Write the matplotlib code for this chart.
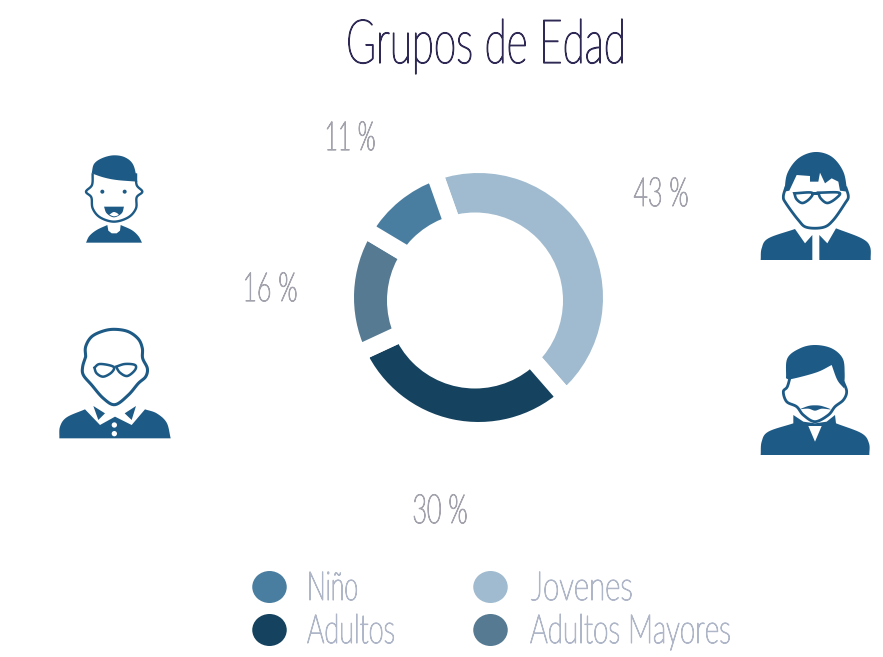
import numpy as np
import matplotlib
matplotlib.use("Agg")
import matplotlib.pyplot as plt
from matplotlib.patches import Ellipse, Polygon, Circle
from matplotlib.patheffects import AbstractPathEffect
from matplotlib.transforms import Affine2D

W, H = 883, 657
plt.rcParams["font.family"] = ["Lato", "DejaVu Sans"]

title = "Grupos de Edad"
categories = ["Jovenes", "Adultos", "Adultos Mayores", "Niño"]
# shares as the ring draws them, the printed labels are a little different
values = [44, 29.5, 15.5, 11]
pct_labels = ["43 %", "30 %", "16 %", "11 %"]
colors = ["#a0bbcf", "#15435f", "#567a92", "#4a7ea0"]
label_pos = [(661, 195), (440, 512), (270, 290), (350, 139)]
label_width = [55, 55, 55, 51]
legend_order = ["Niño", "Jovenes", "Adultos", "Adultos Mayores"]
legend_pos = [(269.5, 587), (490.5, 587), (269.5, 630), (490.5, 630)]
legend_width = [51, 102, 88, 201]
legend_text_x = [307, 531, 307, 530]

ICON = "#1d5a85"
TEXT = "#aeb6c8"
PCT = "#a3a3ad"


class Condense(AbstractPathEffect):
    """Squeezes text sideways about x0 (no condensed font here), a thin stroke gives the weight back"""

    def __init__(self, sx, x0, color, lw):
        super().__init__()
        self.sx, self.x0, self.color, self.lw = sx, x0, color, lw

    def draw_path(self, renderer, gc, tpath, affine, rgbFace):
        squeezed = affine + Affine2D().translate(-self.x0, 0).scale(self.sx, 1).translate(self.x0, 0)
        renderer.draw_path(gc, tpath, squeezed, rgbFace)
        gc0 = renderer.new_gc()
        gc0.copy_properties(gc)
        gc0.set_foreground(self.color)
        gc0.set_linewidth(self.lw)
        gc0.set_joinstyle("round")
        renderer.draw_path(gc0, tpath, squeezed, None)
        gc0.restore()


def squeeze(fig, t, x0, width, lw):
    w = t.get_window_extent(fig.canvas.get_renderer()).width
    t.set_path_effects([Condense(width / w, x0, t.get_color(), lw)])


def curve(pts, n=8):
    """Open Catmull-Rom curve through pts, still in crop coordinates"""
    p = np.array(pts, float)
    p = np.vstack([2 * p[0] - p[1], p, 2 * p[-1] - p[-2]])
    out = []
    for i in range(1, len(p) - 2):
        p0, p1, p2, p3 = p[i - 1], p[i], p[i + 1], p[i + 2]
        for t in np.linspace(0, 1, n, endpoint=False):
            out.append(0.5 * (2 * p1 + (p2 - p0) * t + (2 * p0 - 5 * p1 + 4 * p2 - p3) * t ** 2
                              + (3 * p1 - p0 - 3 * p2 + p3) * t ** 3))
    out.append(p[-2])
    return [tuple(q) for q in out]


def closed(pts):
    return curve(list(pts) + [pts[0]])


def zoomed(pts, ox, oy=140):
    p = np.array(pts, float)
    return np.column_stack([ox + p[:, 0] / 3, H - (oy + p[:, 1] / 3)])


def fill(ax, pts, ox, color=ICON, z=5):
    ax.add_patch(Polygon(zoomed(pts, ox), closed=True, fc=color, ec="none", zorder=z))


def outline(ax, pts, ox, lw=2.0, color=ICON, fc="none", z=5, ring=True):
    # ring=False leaves the top open, the hair covers it
    xy = zoomed(closed(pts) if ring else curve(pts), ox)
    if fc != "none":
        ax.add_patch(Polygon(xy, closed=True, fc=fc, ec="none", zorder=z))
    ax.add_patch(Polygon(xy, closed=ring, fc="none", ec=color, lw=lw, zorder=z))


def dot(ax, x, y, r, ox, color=ICON, z=6):
    c = zoomed([(x, y)], ox)[0]
    ax.add_patch(Circle(c, r / 3, fc=color, ec="none", zorder=z))


def boy(ax, ox):
    fill(ax, curve([(108, 308), (118, 288), (140, 270), (172, 255)]) + [(175, 272), (185, 280), (200, 280), (210, 272)]
         + curve([(212, 255), (245, 270), (265, 288), (276, 308)]), ox)
    outline(ax, [(128, 100), (126, 135), (108, 155), (124, 172), (128, 205), (150, 232), (192, 245), (235, 232),
                 (258, 205), (260, 172), (277, 155), (260, 135), (258, 100)], ox, lw=1.7, fc="white", ring=False)
    fill(ax, curve([(125, 100), (132, 72), (155, 55), (190, 46), (225, 52), (250, 75), (262, 125)])
         + curve([(262, 125), (200, 120), (160, 112), (125, 100)]), ox, z=6)
    dot(ax, 157, 155, 6, ox)
    dot(ax, 224, 155, 6, ox)
    fill(ax, [(162, 200), (222, 200)] + curve([(222, 200), (215, 220), (192, 232), (170, 220), (162, 200)]), ox)
    fill(ax, closed([(178, 224), (192, 216), (206, 224), (192, 229)]), ox, color="white", z=6)


def old_man(ax, ox):
    fill(ax, curve([(28, 895), (30, 860), (50, 832), (105, 808)]) + [(150, 855), (195, 830), (245, 855)]
         + curve([(285, 808), (320, 820), (350, 848), (362, 895)]), ox)
    fill(ax, [(130, 798), (165, 820), (145, 840)], ox)
    fill(ax, [(258, 798), (224, 820), (245, 840)], ox)
    dot(ax, 193, 855, 8, ox, color="white")
    dot(ax, 193, 881, 8, ox, color="white")
    outline(ax, [(107, 650), (107, 620), (125, 590), (160, 573), (195, 568), (235, 575), (265, 597), (277, 625),
                 (278, 655), (292, 685), (287, 710), (265, 730), (235, 765), (195, 794), (160, 775), (125, 735),
                 (100, 705), (98, 680)], ox, lw=2.2, fc="white")
    outline(ax, [(133, 683), (150, 672), (190, 680), (185, 697), (160, 710), (140, 700)], ox, lw=1.8)
    outline(ax, [(198, 680), (225, 672), (255, 675), (255, 690), (232, 708), (210, 698)], ox, lw=1.8)


def glasses_man(ax, ox):
    fill(ax, curve([(32, 360), (35, 325), (55, 295), (135, 267)]) + [(165, 310), (187, 285), (187, 360)], ox)
    fill(ax, [(208, 360), (208, 285), (232, 310)] + curve([(258, 265), (335, 295), (360, 320), (362, 360)]), ox)
    outline(ax, [(108, 140), (100, 170), (108, 190), (145, 240), (170, 262), (220, 262), (250, 240), (285, 190),
                 (295, 170), (287, 140)], ox, lw=2.0, fc="white", ring=False)
    fill(ax, curve([(103, 155), (112, 100), (145, 55), (195, 36), (245, 50), (280, 95), (292, 155)])
         + [(270, 152), (265, 125), (245, 115), (225, 130), (210, 98), (205, 125), (180, 125), (180, 108), (140, 105),
            (118, 152)], ox, z=6)
    outline(ax, [(133, 160), (185, 158), (180, 175), (158, 189), (140, 178)], ox, lw=1.9, fc="white", z=7)
    outline(ax, [(205, 158), (267, 158), (258, 175), (232, 189), (212, 175)], ox, lw=1.9, fc="white", z=7)
    fill(ax, [(183, 155), (207, 155), (207, 166), (183, 166)], ox, z=7)


def beard_man(ax, ox):
    fill(ax, curve([(32, 945), (35, 905), (55, 875), (130, 850)]) + [(130, 825), (160, 845), (195, 850), (230, 845),
                                                                    (255, 825)]
         + curve([(258, 850), (335, 880), (357, 910), (358, 945)]), ox)
    fill(ax, [(175, 858), (215, 858), (195, 905)], ox, color="white", z=6)
    outline(ax, [(122, 705), (112, 740), (100, 755), (110, 785), (140, 800), (160, 825), (195, 845), (235, 825),
                 (255, 800), (280, 780), (290, 755), (280, 725)], ox, lw=2.0, fc="white", z=5.5, ring=False)
    fill(ax, curve([(108, 715), (112, 655), (150, 625), (195, 615), (245, 625), (278, 655), (284, 700), (282, 745)])
         + curve([(282, 745), (262, 720), (245, 675)]) + curve([(245, 675), (200, 697), (125, 717), (108, 715)]), ox, z=6)
    fill(ax, closed([(148, 808), (175, 798), (195, 796), (215, 798), (242, 808), (215, 806), (195, 812), (175, 806)]),
         ox, z=6)


fig = plt.figure(figsize=(W / 100, H / 100), dpi=100, facecolor="white")
ax = fig.add_axes([0, 0, 1, 1])

# white edges make the gaps, so the radii are padded by half a line width
gap = 17
ax.pie(values, colors=colors, startangle=109.5, counterclock=False, center=(478.5, H - 297.5),
       radius=124.5 + gap / 2, frame=True,
       wedgeprops=dict(width=60, edgecolor="white", linewidth=gap * 72 / 100, joinstyle="miter"))
# the hole sits a bit off centre in the reference
ax.add_patch(Circle((475, H - 300.5), 88, fc="white", ec="none", zorder=3))

ax.set_xlim(0, W)
ax.set_ylim(0, H)
ax.axis("off")

fig.canvas.draw()

t = ax.text(486, H - 46, title, color="#2e2a55", fontsize=44, weight="light", ha="center", va="center")
squeeze(fig, t, 486, 280, 0.9)

for lab, w, (x, y) in zip(pct_labels, label_width, label_pos):
    t = ax.text(x, H - y, lab, color=PCT, fontsize=29, weight="light", ha="center", va="center")
    squeeze(fig, t, x, w, 0.8)

for name, w, tx, (x, y) in zip(legend_order, legend_width, legend_text_x, legend_pos):
    c = colors[categories.index(name)]
    ax.add_patch(Ellipse((x, H - y), 34.5, 32, fc=c, ec="none"))
    t = ax.text(tx, H - y - 2, name, color=TEXT, fontsize=29, weight="light", ha="left", va="center")
    squeeze(fig, t, tx, w, 0.8)

boy(ax, 50)
old_man(ax, 50)
glasses_man(ax, 750)
beard_man(ax, 750)

fig.savefig("out.png", dpi=100)
